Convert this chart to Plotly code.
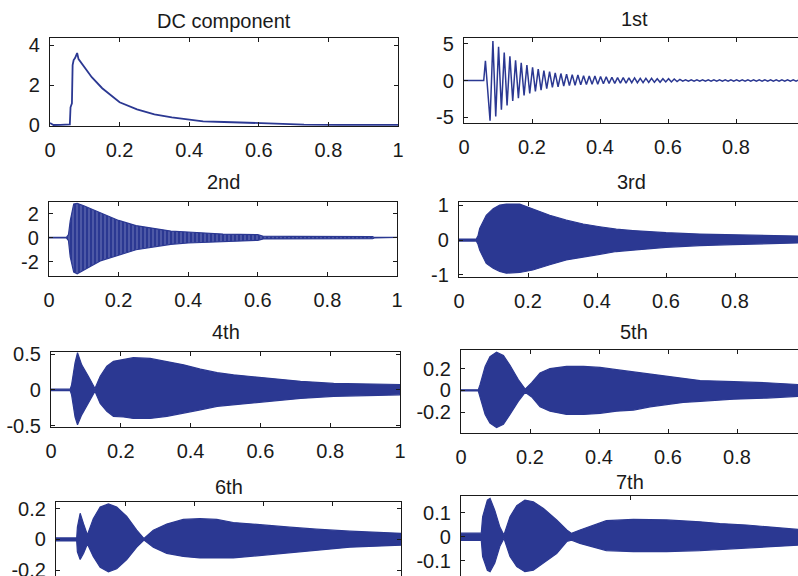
import numpy as np
import plotly.graph_objects as go

# ---------------- data ----------------
# DC component
dc_t = [0, 0.005, 0.01, 0.03, 0.05, 0.057, 0.059, 0.061, 0.063, 0.065, 0.068, 0.072, 0.076, 0.078,
        0.082, 0.09, 0.1, 0.12, 0.15, 0.2, 0.25, 0.3, 0.35, 0.4, 0.44, 0.5, 0.55, 0.63, 0.68,
        0.73, 0.83, 1.0]
dc_v = [0.12, 0.05, 0.02, 0.03, 0.03, 0.05, 0.9, 1.0, 1.1, 3.0, 3.25, 3.35, 3.5, 3.6,
        3.3, 3.1, 2.85, 2.4, 1.85, 1.15, 0.8, 0.55, 0.4, 0.28, 0.2, 0.17, 0.14, 0.1, 0.06,
        0.04, 0.03, 0.03]

# 1st harmonic: successive positive / negative peaks (one per cycle, 60 Hz)
first_pre_t = [0, 0.058, 0.063]
first_pre_v = [0, 0, 2.7]
first_pos = [5.4, 4.6, 3.8, 3.3, 2.75, 2.4, 2.1, 1.8, 1.55, 1.35, 1.2, 1.05, 0.95, 0.85,
             0.8, 0.75, 0.65, 0.6, 0.6, 0.55, 0.5, 0.45, 0.4, 0.4, 0.35, 0.35, 0.3, 0.3,
             0.3, 0.25, 0.25, 0.25, 0.2, 0.15, 0.1, 0.1, 0.09, 0.09, 0.1, 0.09, 0.08, 0.09,
             0.09, 0.08, 0.08, 0.09, 0.08, 0.08, 0.09, 0.08, 0.08, 0.08, 0.09, 0.08, 0.08]
first_neg = [-5.5, -4.9, -4.0, -3.4, -2.8, -2.4, -2.05, -1.75, -1.5, -1.3, -1.1, -0.95,
             -0.85, -0.75, -0.7, -0.65, -0.6, -0.55, -0.5, -0.5, -0.45, -0.4, -0.4, -0.35,
             -0.35, -0.3, -0.3, -0.3, -0.25, -0.25, -0.25, -0.2, -0.2, -0.15, -0.1, -0.1,
             -0.09, -0.1, -0.09, -0.09, -0.08, -0.09, -0.08, -0.08, -0.09, -0.08, -0.08,
             -0.09, -0.08, -0.08, -0.08, -0.08, -0.08, -0.08, -0.08]

# dense harmonics: upper / lower envelopes
h2_t = [0, 0.05, 0.056, 0.061, 0.071, 0.081, 0.1, 0.12, 0.15, 0.2, 0.25, 0.3, 0.35, 0.4,
        0.45, 0.5, 0.6, 0.616, 0.7, 0.8, 0.93, 0.935, 1.0]
h2_up = [0.02, 0.02, 0.25, 1.4, 2.8, 2.85, 2.65, 2.4, 2.0, 1.43, 1.0, 0.75, 0.55, 0.47,
         0.39, 0.3, 0.25, 0.12, 0.1, 0.1, 0.08, 0.02, 0.02]
h2_lo = [-0.02, -0.02, -0.25, -1.6, -2.85, -3.0, -2.7, -2.37, -1.9, -1.46, -1.0, -0.77,
         -0.55, -0.44, -0.36, -0.3, -0.22, -0.1, -0.1, -0.1, -0.08, -0.02, -0.02]

h3_t = [0, 0.05, 0.055, 0.06, 0.079, 0.099, 0.118, 0.137, 0.176, 0.214, 0.263, 0.311, 0.36,
        0.408, 0.456, 0.504, 0.6, 0.698, 0.794, 0.89, 1.0]
h3_up = [0.03, 0.03, 0.12, 0.33, 0.71, 0.9, 1.0, 1.03, 1.03, 0.9, 0.71, 0.57, 0.46, 0.38,
         0.31, 0.27, 0.21, 0.17, 0.15, 0.12, 0.11]
h3_lo = [-0.03, -0.03, -0.12, -0.29, -0.67, -0.81, -0.9, -0.95, -0.93, -0.86, -0.71, -0.57,
         -0.48, -0.41, -0.33, -0.29, -0.21, -0.16, -0.13, -0.1, -0.08]

h4_t = [0, 0.055, 0.059, 0.069, 0.076, 0.088, 0.107, 0.126, 0.141, 0.16, 0.179, 0.208,
        0.236, 0.284, 0.332, 0.38, 0.428, 0.476, 0.523, 0.619, 0.715, 0.81, 0.906, 1.0]
h4_up = [0.01, 0.01, 0.07, 0.38, 0.52, 0.35, 0.19, 0.02, 0.19, 0.33, 0.4, 0.43, 0.45, 0.44,
         0.4, 0.35, 0.29, 0.24, 0.21, 0.16, 0.12, 0.09, 0.085, 0.075]
h4_lo = [-0.01, -0.01, -0.07, -0.38, -0.49, -0.35, -0.19, -0.02, -0.19, -0.3, -0.37, -0.38,
         -0.4, -0.4, -0.37, -0.33, -0.28, -0.23, -0.21, -0.16, -0.12, -0.09, -0.08, -0.07]

h5_t = [0, 0.05, 0.055, 0.07, 0.084, 0.103, 0.123, 0.142, 0.166, 0.186, 0.205, 0.229, 0.258,
        0.306, 0.355, 0.403, 0.451, 0.5, 0.548, 0.596, 0.644, 0.693, 0.79, 0.886, 1.0]
h5_up = [0.005, 0.005, 0.05, 0.22, 0.31, 0.35, 0.32, 0.23, 0.1, 0.012, 0.07, 0.16, 0.2, 0.22,
         0.22, 0.21, 0.19, 0.17, 0.15, 0.13, 0.11, 0.09, 0.08, 0.07, 0.05]
h5_lo = [-0.005, -0.005, -0.05, -0.22, -0.3, -0.34, -0.31, -0.22, -0.1, -0.018, -0.06, -0.15,
         -0.19, -0.22, -0.22, -0.21, -0.19, -0.18, -0.15, -0.13, -0.11, -0.1, -0.08, -0.07,
         -0.05]

h6_t = [0, 0.06, 0.062, 0.07, 0.08, 0.091, 0.108, 0.128, 0.152, 0.176, 0.205, 0.234, 0.255,
        0.282, 0.321, 0.369, 0.417, 0.466, 0.514, 0.562, 0.61, 0.678, 0.755, 0.852, 1.0]
h6_up = [0.01, 0.01, 0.08, 0.17, 0.1, 0.03, 0.135, 0.21, 0.23, 0.21, 0.15, 0.06, 0.006, 0.06,
         0.1, 0.13, 0.135, 0.13, 0.11, 0.1, 0.09, 0.08, 0.067, 0.054, 0.04]
h6_lo = [-0.01, -0.01, -0.08, -0.13, -0.09, -0.03, -0.11, -0.18, -0.21, -0.19, -0.13, -0.05,
         -0.004, -0.05, -0.09, -0.11, -0.12, -0.12, -0.12, -0.11, -0.1, -0.086, -0.07, -0.05,
         -0.037]

h7_t = [0, 0.06, 0.064, 0.078, 0.086, 0.1, 0.115, 0.127, 0.145, 0.165, 0.189, 0.214, 0.244,
        0.283, 0.313, 0.327, 0.352, 0.392, 0.43, 0.51, 0.608, 0.707, 0.766, 0.845, 0.944, 1.0]
h7_up = [0.015, 0.015, 0.083, 0.153, 0.16, 0.11, 0.04, 0.007, 0.083, 0.13, 0.153, 0.146,
         0.118, 0.07, 0.028, 0.014, 0.028, 0.049, 0.067, 0.072, 0.07, 0.062, 0.055, 0.049,
         0.035, 0.03]
h7_lo = [-0.015, -0.015, -0.083, -0.14, -0.146, -0.11, -0.04, -0.007, -0.083, -0.125, -0.146,
         -0.14, -0.11, -0.07, -0.02, -0.014, -0.028, -0.044, -0.058, -0.062, -0.062, -0.058,
         -0.053, -0.049, -0.039, -0.035]

titles = ["DC component", "1st", "2nd", "3rd", "4th", "5th", "6th", "7th"]
x_ticks = [0, 0.2, 0.4, 0.6, 0.8, 1]
x_ticks_7 = [0, 0.5, 1]
y_ticks = {
    "DC component": ([0, 2, 4], ["0", "2", "4"]),
    "1st": ([-5, 0, 5], ["-5", "0", "5"]),
    "2nd": ([-2, 0, 2], ["-2", "0", "2"]),
    "3rd": ([-1, 0, 1], ["-1", "0", "1"]),
    "4th": ([-0.5, 0, 0.5], ["-0.5", "0", "0.5"]),
    "5th": ([-0.2, 0, 0.2], ["-0.2", "0", "0.2"]),
    "6th": ([-0.2, 0, 0.2], ["-0.2", "0", "0.2"]),
    "7th": ([-0.1, 0, 0.1], ["-0.1", "0", "0.1"]),
}

# ---------------- layout geometry (pixels) ----------------
W, H = 798, 576
# (left px, right px of x=1, top px, bottom px, y range)
panels = {
    "DC component": (50, 398, 38, 126, [-0.03, 4.35]),
    "1st": (464, 804, 38, 123, [-5.8, 5.8]),
    "2nd": (49, 397, 202, 276, [-3.18, 2.96]),
    "3rd": (459, 804, 202, 277, [-1.06, 1.09]),
    "4th": (51, 400, 352, 427, [-0.52, 0.53]),
    "5th": (461, 806, 350, 433, [-0.39, 0.37]),
    "6th": (56, 401, 502, 576, [-0.237, 0.243]),
    "7th": (461, 799, 496, 576, [-0.164, 0.17]),
}

COL = "#2b3892"
AX = "#1a1a1a"
FONT = "Arial, Liberation Sans, sans-serif"
TICK_SIZE = 20
TITLE_SIZE = 20

fig = go.Figure()
layout = dict(width=W, height=H, margin=dict(l=0, r=0, t=0, b=0, autoexpand=False),
              paper_bgcolor="white", plot_bgcolor="white", showlegend=False,
              font=dict(family=FONT, size=TICK_SIZE, color=AX))
annotations = []

for i, name in enumerate(titles):
    idx = i + 1
    xa = "x" if idx == 1 else f"x{idx}"
    ya = "y" if idx == 1 else f"y{idx}"
    L, R, T, B, yr = panels[name]
    right_px = min(R, W)
    xmax = (right_px - L) / (R - L)
    bottom_px = min(B, H)
    bottom_row = B >= H
    dom_x = [L / W, right_px / W]
    dom_y = [1 - bottom_px / H, 1 - T / H]

    if name == "DC component":
        fig.add_trace(go.Scatter(x=dc_t, y=dc_v, mode="lines", xaxis=xa, yaxis=ya,
                                 line=dict(color=COL, width=1.8)))
    elif name == "1st":
        n = len(first_pos)
        tp = 0.085 + np.arange(n) / 60.0
        tn = tp - 1 / 120.0
        tt = list(first_pre_t)
        vv = list(first_pre_v)
        for k in range(n):
            tt += [tn[k], tp[k]]
            vv += [first_neg[k], first_pos[k]]
        fig.add_trace(go.Scatter(x=tt, y=vv, mode="lines", xaxis=xa, yaxis=ya,
                                 line=dict(color=COL, width=1.5)))
    else:
        t, up, lo = {
            "2nd": (h2_t, h2_up, h2_lo), "3rd": (h3_t, h3_up, h3_lo),
            "4th": (h4_t, h4_up, h4_lo), "5th": (h5_t, h5_up, h5_lo),
            "6th": (h6_t, h6_up, h6_lo), "7th": (h7_t, h7_up, h7_lo)}[name]
        px_ = list(t) + list(t)[::-1]
        py_ = list(up) + list(lo)[::-1]
        kw = {}
        if name == "2nd":
            kw["fillpattern"] = dict(shape="|", fgcolor=COL, bgcolor="#8a91c9",
                                     size=4, solidity=0.82, fillmode="replace")
        fig.add_trace(go.Scatter(x=px_, y=py_, mode="lines", fill="toself",
                                 fillcolor=COL, xaxis=xa, yaxis=ya,
                                 line=dict(color=COL, width=1.2), **kw))

    xt = x_ticks_7 if name == "7th" else x_ticks
    xaxis = dict(domain=dom_x, range=[0, xmax], anchor=ya, tickvals=xt,
                 ticktext=[("%g" % v) for v in xt], ticks="inside", ticklen=4,
                 tickwidth=1, tickcolor=AX, showline=True, linecolor=AX, linewidth=1.3,
                 showgrid=False, zeroline=False, automargin=False, ticklabelstandoff=6,
                 tickfont=dict(size=TICK_SIZE, family=FONT, color=AX))
    if bottom_row:
        xaxis.update(side="top", mirror=False, showticklabels=False)
    else:
        xaxis.update(mirror="ticks")
    tv, tx = y_ticks[name]
    yaxis = dict(domain=dom_y, range=list(yr), anchor=xa, tickvals=tv, ticktext=tx,
                 ticks="inside", ticklen=4, tickwidth=1, tickcolor=AX, showline=True,
                 linecolor=AX, linewidth=1.3, showgrid=False, zeroline=False,
                 automargin=False, ticklabelstandoff=5, ticklabeloverflow="allow",
                 tickfont=dict(size=TICK_SIZE, family=FONT, color=AX))
    if R <= W and name != "7th":
        yaxis.update(mirror="ticks")
    layout["xaxis" if idx == 1 else f"xaxis{idx}"] = xaxis
    layout["yaxis" if idx == 1 else f"yaxis{idx}"] = yaxis

    title_y = {"DC component": 21, "1st": 19, "2nd": 182, "3rd": 182, "4th": 332,
               "5th": 332, "6th": 487, "7th": 482}[name]
    annotations.append(dict(text=name, x=((L + R) / 2) / W, y=1 - title_y / H,
                            xref="paper", yref="paper", showarrow=False,
                            xanchor="center", yanchor="middle",
                            font=dict(size=TITLE_SIZE, family=FONT, color=AX)))

layout["annotations"] = annotations
fig.update_layout(**layout)
fig.write_html("out.html", config={"displayModeBar": False},
               post_script="document.body.style.margin='0';"
                           "document.body.style.overflow='hidden';")
